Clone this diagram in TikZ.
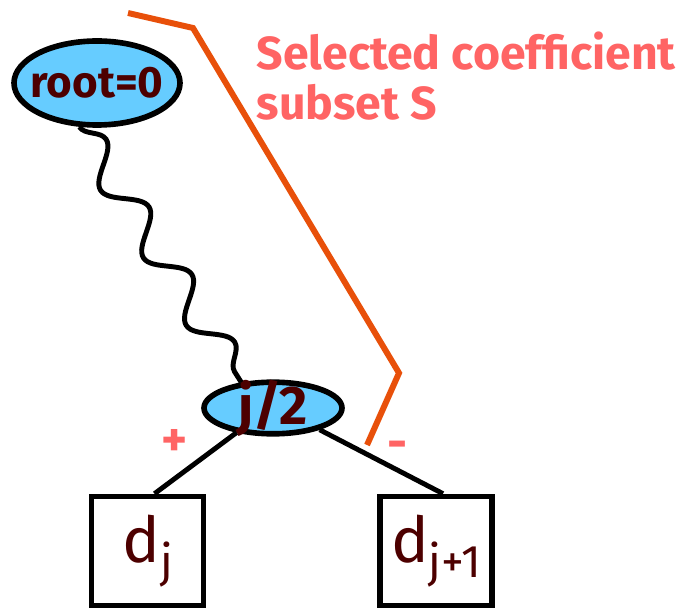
\documentclass[tikz,border=0pt]{standalone}
\usepackage{fontspec}
\setmainfont{Fira Sans}
\usepackage{xcolor}
\usetikzlibrary{positioning, decorations.pathmorphing, shapes.geometric}

\definecolor{nodeblue}{HTML}{66CCFF}
\definecolor{labeldark}{HTML}{4D0000}
\definecolor{salmon}{HTML}{FF6464}
\definecolor{cutorange}{HTML}{E8500A}

\newcommand{\lowidx}[1]{\raisebox{-0.45ex}{\fontsize{13}{13}\selectfont #1}}

\tikzset{
    coef/.style={ellipse, draw, line width=1.6pt, fill=nodeblue,
                 inner xsep=-0.12cm, inner ysep=0.13cm,
                 text=labeldark, font=\bfseries},
    leafbox/.style={rectangle, draw, line width=1.6pt, minimum width=1.12cm,
                    minimum height=1.09cm, inner sep=0pt, text=labeldark,
                    font=\fontsize{18}{18}\selectfont},
    edge/.style={line width=1.4pt},
    sign/.style={text=salmon, font=\bfseries\fontsize{14}{14}\selectfont},
}

\begin{document}
\begin{tikzpicture}
\useasboundingbox (0, 0) rectangle (6.79, -6.10);

% coefficient nodes
\node[coef, minimum width=1.66cm, minimum height=0.84cm,
      font=\bfseries\fontsize{12.5}{12.5}\selectfont] (root) at (0.97, -0.83) {root=0};
\node[coef, inner ysep=-0.1cm, minimum width=1.38cm, minimum height=0.48cm,
      font=\bfseries\fontsize{15.5}{15.5}\selectfont] (half) at (2.73, -4.08) {j/2};

% leaves
\node[leafbox] (dj)  at (1.475, -5.51) {d\lowidx{j}};
\node[leafbox] (dj1) at (4.36, -5.51)  {d\lowidx{j+1}};

% path from the root down to j/2
\draw[edge, decorate, decoration={snake, segment length=0.8cm, amplitude=0.16cm}]
    (root.-112) -- (half.141);

% children
\draw[edge] (half.214) -- ([xshift=0.07cm]dj.north);
\draw[edge] (half.-25) -- ([xshift=0.07cm]dj1.north);
\node[sign] (plus)  at (1.75, -4.43) {+};
\node[sign] (minus) at (3.98, -4.50) {-};

% boundary of the selected subset
\coordinate (c0) at (1.28, -0.13);
\coordinate (c1) at (1.93, -0.28);
\coordinate (c2) at (3.99, -3.73);
\coordinate (c3) at (3.67, -4.45);
\draw[cutorange, line width=1.7pt] (c0) -- (c1) -- (c2) -- (c3);

\node[text=salmon, font=\bfseries\fontsize{13.2}{14.2}\selectfont, align=left,
      anchor=north west, inner sep=0pt] (sel) at (2.56, -0.31)
    {Selected coefficient\\subset S};

\end{tikzpicture}
\end{document}
